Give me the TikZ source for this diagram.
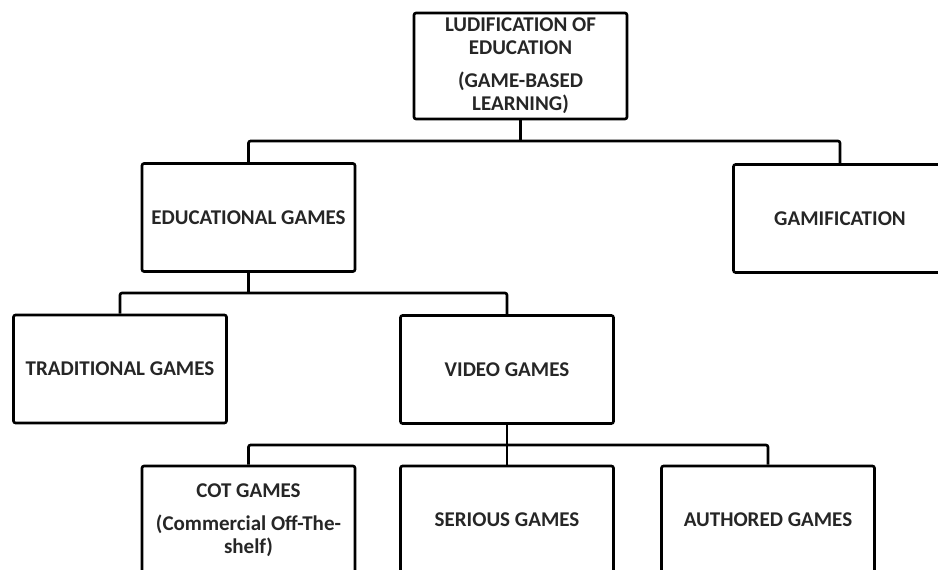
\documentclass[tikz,border=0pt]{standalone}
\usepackage{fontspec}
\setmainfont{Carlito}
\tikzset{
    box/.style={draw, line width=2.6pt, rounded corners=2pt, minimum width=213pt,
        minimum height=107pt, align=center, font=\bfseries\fontsize{21}{23}\selectfont,
        text=black!85},
    link/.style={line width=2.6pt, rounded corners=2pt}
}
\begin{document}
\begin{tikzpicture}[x=1pt,y=-1pt]
            \useasboundingbox (0,0) rectangle (938,570);

            \node[box, minimum height=106pt] (ludo) at (520.5,66)
                {LUDIFICATION OF\\ EDUCATION\\[10pt] (GAME-BASED\\ LEARNING)};

            \node[box, minimum height=108pt] (edu) at (248.5,217.5) {EDUCATIONAL GAMES};
            \node[box, minimum height=108pt] (gami) at (840,218.5) {GAMIFICATION};

            \node[box, minimum height=108pt] (trad) at (120,369) {TRADITIONAL GAMES};
            \node[box, minimum height=108pt] (video) at (507,369.5) {VIDEO GAMES};

            \node[box, minimum height=108pt] (cot) at (248.5,520)
                {COT GAMES\\[10pt] (Commercial Off-The-\\ shelf)};
            \node[box, minimum height=108pt] (serious) at (507,520) {SERIOUS GAMES};
            \node[box, minimum height=108pt] (auth) at (768,520) {AUTHORED GAMES};

            \coordinate (bus1) at (520.5,141);
            \coordinate (bus2) at (248.5,293);
            \coordinate (bus3) at (507,445);

            \draw[link] (ludo.south) -- (bus1);
            \draw[link] (edu.north) |- (bus1) -| (gami.north);

            \draw[link] (edu.south) -- (bus2);
            \draw[link] (trad.north) |- (bus2) -| (video.north);

            \draw[link] (video.south) -- (bus3);
            \draw[link] (cot.north) |- (bus3) -| (auth.north);
            \draw[link] (bus3) -- (serious.north);

        \end{tikzpicture}
\end{document}
